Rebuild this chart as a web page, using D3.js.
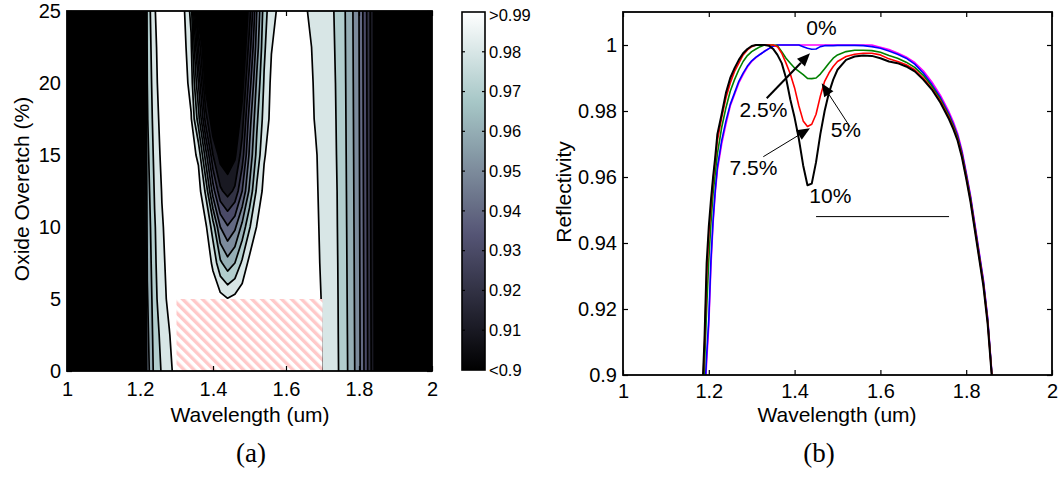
<!DOCTYPE html>
<html>
<head>
<meta charset="utf-8">
<script src="https://cdn.jsdelivr.net/npm/d3@7"></script>
<style>
  body { margin: 0; background: #fff; }
  text { font-family: "Liberation Sans", Arial, sans-serif; fill: #000; }
</style>
</head>
<body>
<svg id="chart" width="1063" height="477"></svg>
<script>
// ---------------- DATA ----------------
// (a) contour map: reflectivity vs wavelength (columns) and oxide overetch (rows)
const gridWavelengths = [1.00,1.02,1.04,1.06,1.08,1.10,1.12,1.14,1.16,1.18,1.20,1.22,1.24,1.26,1.28,1.30,1.32,1.34,1.36,1.38,
  1.40,1.42,1.44,1.46,1.48,1.50,1.52,1.54,1.56,1.58,1.60,1.62,1.64,1.66,1.68,1.70,1.72,1.74,1.76,1.78,
  1.80,1.82,1.84,1.86,1.88,1.90,1.92,1.94,1.96,1.98,2.00];
const gridOveretch = [0, 2.5, 5, 7.5, 10, 12.5, 15, 17.5, 20, 22.5, 25];

const reflOe0 = [0.60,0.55,0.62,0.58,0.66,0.63,0.70,0.72,0.78,
  0.84,0.885,0.955,0.9735,0.981,0.9875,0.9935,0.998,0.999,1.0,
  1.0,1.0,1.0,1.0,1.0,1.0,1.0,1.0,1.0,1.0,
  1.0,1.0,0.9995,0.998,0.996,0.993,0.9898,0.986,0.9815,0.974,
  0.965,0.953,0.934,0.913,0.88,0.84,
  0.80,0.76,0.70,0.66,0.62,0.60];
const reflOe2_5 = [0.60,0.55,0.62,0.58,0.66,0.63,0.70,0.72,0.78,
  0.84,0.886,0.957,0.975,0.983,0.9895,0.995,0.998,0.999,1.0,
  1.0,1.0,0.999,0.998,0.999,1.0,1.0,1.0,1.0,1.0,
  1.0,0.9995,0.999,0.9975,0.996,0.993,0.9895,0.9858,0.9812,0.9737,
  0.9647,0.9527,0.9337,0.9127,0.8795,0.84,
  0.80,0.76,0.70,0.66,0.62,0.60];
const reflOe5 = [0.60,0.55,0.62,0.58,0.66,0.63,0.70,0.72,0.78,
  0.845,0.887,0.959,0.9765,0.987,0.992,0.996,0.999,1.0,1.0,
  0.999,0.997,0.994,0.9905,0.993,0.996,0.998,0.999,1.0,1.0,
  1.0,0.9995,0.9985,0.997,0.9955,0.993,0.9893,0.9855,0.981,0.9734,
  0.9644,0.9524,0.9334,0.9124,0.879,0.84,
  0.80,0.76,0.70,0.66,0.62,0.60];
const reflOe7_5 = [0.60,0.55,0.62,0.58,0.66,0.63,0.70,0.72,0.78,
  0.845,0.887,0.961,0.978,0.988,0.993,0.997,0.999,1.0,0.999,
  0.997,0.988,0.972,0.964,0.970,0.982,0.993,0.996,0.998,0.999,
  0.9995,0.999,0.998,0.9965,0.995,0.9925,0.9885,0.9852,0.9807,0.9731,
  0.9641,0.9521,0.9331,0.9121,0.8785,0.84,
  0.80,0.76,0.70,0.66,0.62,0.60];
const reflOe10 = [0.60,0.55,0.62,0.58,0.66,0.63,0.70,0.72,0.78,
  0.845,0.888,0.963,0.979,0.989,0.994,0.998,1.0,0.999,0.998,
  0.992,0.975,0.950,0.941,0.948,0.963,0.979,0.9905,0.995,0.997,
  0.998,0.998,0.997,0.996,0.9945,0.992,0.988,0.9849,0.9803,0.9728,
  0.9638,0.9518,0.9328,0.9118,0.878,0.84,
  0.80,0.76,0.70,0.66,0.62,0.60];
const reflOe12_5 = [0.60,0.55,0.62,0.58,0.66,0.63,0.70,0.72,0.78,
  0.85,0.888,0.965,0.981,0.9905,0.995,0.998,0.999,0.997,0.995,
  0.978,0.945,0.922,0.916,0.922,0.94,0.962,0.982,0.993,0.996,
  0.997,0.9975,0.9965,0.9955,0.994,0.9915,0.9875,0.9846,0.98,0.9725,
  0.9635,0.9515,0.9325,0.9115,0.8775,0.84,
  0.80,0.76,0.70,0.66,0.62,0.60];
const reflOe15 = [0.60,0.55,0.62,0.58,0.66,0.63,0.70,0.72,0.78,
  0.85,0.889,0.967,0.983,0.9925,0.996,0.999,0.998,0.994,0.988,
  0.955,0.92,0.906,0.903,0.908,0.925,0.952,0.973,0.989,0.995,
  0.997,0.9975,0.997,0.9965,0.9935,0.991,0.987,0.9842,0.9796,0.9722,
  0.9632,0.9512,0.9322,0.9112,0.877,0.84,
  0.80,0.76,0.70,0.66,0.62,0.60];
const reflOe17_5 = [0.60,0.55,0.62,0.58,0.66,0.63,0.70,0.72,0.78,
  0.85,0.889,0.969,0.985,0.994,0.997,0.999,0.997,0.991,0.965,
  0.925,0.90,0.893,0.893,0.898,0.915,0.945,0.968,0.984,0.993,
  0.996,0.997,0.9965,0.996,0.993,0.9895,0.986,0.9839,0.9793,0.9719,
  0.9629,0.9509,0.9319,0.9109,0.8765,0.84,
  0.80,0.76,0.70,0.66,0.62,0.60];
const reflOe20 = [0.60,0.55,0.62,0.58,0.66,0.63,0.70,0.72,0.78,
  0.85,0.89,0.970,0.987,0.995,0.998,0.999,0.995,0.986,0.95,
  0.905,0.89,0.885,0.885,0.89,0.905,0.935,0.962,0.981,0.992,
  0.995,0.996,0.996,0.996,0.9925,0.989,0.986,0.9835,0.979,0.9716,
  0.9626,0.9506,0.9316,0.9106,0.876,0.84,
  0.80,0.76,0.70,0.66,0.62,0.60];
const reflOe22_5 = [0.60,0.55,0.62,0.58,0.66,0.63,0.70,0.72,0.78,
  0.85,0.89,0.972,0.988,0.9955,0.998,0.999,0.9935,0.982,0.93,
  0.89,0.88,0.875,0.875,0.88,0.895,0.925,0.955,0.978,0.9895,
  0.994,0.996,0.9955,0.995,0.9915,0.9885,0.9855,0.983,0.9785,0.9713,
  0.9623,0.9503,0.9313,0.9103,0.8755,0.84,
  0.80,0.76,0.70,0.66,0.62,0.60];
const reflOe25 = [0.60,0.55,0.62,0.58,0.66,0.63,0.70,0.72,0.78,
  0.85,0.89,0.9735,0.9893,0.996,0.999,0.999,0.9915,0.977,0.90,
  0.88,0.87,0.865,0.865,0.87,0.89,0.915,0.95,0.975,0.987,
  0.9915,0.995,0.997,0.993,0.9898,0.987,0.985,0.9825,0.978,0.971,
  0.962,0.950,0.931,0.910,0.875,0.84,
  0.80,0.76,0.70,0.66,0.62,0.60];

const contourLevels = [0.90,0.91,0.92,0.93,0.94,0.95,0.96,0.97,0.98,0.99];
const colorbarLabels = [">0.99","0.98","0.97","0.96","0.95","0.94","0.93","0.92","0.91","<0.9"];
const hatchWavelengths = [1.3, 1.7];
const hatchOveretch = [0, 5];

const xTicks = [1, 1.2, 1.4, 1.6, 1.8, 2];
const leftYTicks = [0, 5, 10, 15, 20, 25];
const rightYTicks = [0.9, 0.92, 0.94, 0.96, 0.98, 1];

// (b) reflectivity spectra for several oxide overetch values
const specWavelengths = [1.18,1.185,1.19,1.195,1.20,1.205,1.21,1.215,1.22,1.23,1.24,1.25,1.26,1.27,1.28,1.29,1.30,
  1.31,1.32,1.33,1.34,1.35,1.36,1.37,1.38,1.39,1.40,1.41,1.42,1.43,1.44,1.45,1.46,1.47,1.48,1.49,1.50,
  1.52,1.54,1.56,1.58,1.60,1.62,1.64,1.66,1.68,1.70,1.72,1.74,1.76,1.77,1.78,1.79,1.80,1.81,1.82,1.83,
  1.84,1.85,1.86,1.87];
const spec0 = [0.853,0.876,0.891,0.904,0.915,0.933,0.946,0.955,0.962,0.970,0.976,0.9815,0.985,0.9885,0.991,0.9933,0.995,
  0.9962,0.9972,0.9981,0.9989,0.9996,1.0,1.0,1.0,1.0,1.0,1.0,1.0,1.0,1.0,1.0,1.0,1.0,1.0,1.0,1.0,
  1.0,1.0,1.0,1.0,0.9993,0.9986,0.9976,0.9964,0.9947,0.9922,0.9888,0.9847,0.9797,0.9767,0.9732,0.9682,0.9615,0.9545,0.946,0.9375,
  0.929,0.9175,0.9005,0.881];
const spec2_5 = [0.855,0.878,0.893,0.906,0.917,0.935,0.947,0.956,0.963,0.971,0.977,0.982,0.9855,0.989,0.9915,0.9936,0.9952,
  0.9963,0.9972,0.9981,0.9989,0.9996,1.0,1.0,1.0,1.0,1.0,1.0,0.9995,0.999,0.9987,0.9988,0.9995,0.9998,0.9998,0.9998,0.9999,
  0.9999,0.9999,0.9998,0.9995,0.999,0.9982,0.9972,0.996,0.9942,0.9915,0.988,0.984,0.979,0.976,0.9725,0.9675,0.961,0.954,0.9455,0.937,
  0.9285,0.917,0.900,0.880];
const spec5 = [0.862,0.887,0.903,0.920,0.935,0.946,0.955,0.961,0.967,0.975,0.981,0.986,0.9895,0.9925,0.995,0.9968,0.998,
  0.9988,0.9995,1.0,1.0,1.0,0.9998,0.998,0.996,0.9945,0.993,0.992,0.991,0.9899,0.9898,0.990,0.9912,0.9928,0.9945,0.996,0.997,
  0.998,0.9984,0.9984,0.9983,0.9978,0.9968,0.996,0.9948,0.9932,0.9908,0.9875,0.9835,0.9785,0.9755,0.972,0.967,0.9605,0.9535,0.945,0.9365,
  0.928,0.9165,0.900,0.881];
const spec7_5 = [0.868,0.893,0.909,0.930,0.943,0.951,0.959,0.965,0.971,0.978,0.984,0.9885,0.992,0.9945,0.997,0.9985,0.9995,
  1.0,1.0,1.0,1.0,1.0,0.9995,0.9975,0.9945,0.9912,0.987,0.9815,0.977,0.9753,0.976,0.979,0.9845,0.989,0.9915,0.9935,0.995,
  0.9965,0.9972,0.9975,0.9975,0.997,0.9958,0.995,0.994,0.9925,0.990,0.9868,0.983,0.978,0.975,0.9715,0.9665,0.960,0.953,0.9445,0.936,
  0.9275,0.916,0.8995,0.880];
const spec10 = [0.870,0.895,0.911,0.934,0.945,0.953,0.960,0.966,0.973,0.979,0.9855,0.990,0.993,0.9955,0.9975,0.9988,0.9997,
  1.0,1.0,1.0,0.9998,0.9988,0.997,0.9945,0.990,0.9835,0.978,0.9715,0.9635,0.9575,0.958,0.9645,0.973,0.980,0.9855,0.9895,0.9925,
  0.9955,0.9965,0.9968,0.9967,0.996,0.995,0.9945,0.9935,0.992,0.9895,0.9865,0.9825,0.9775,0.9745,0.971,0.966,0.9595,0.9525,0.944,0.9355,
  0.927,0.9155,0.899,0.880];
const seriesNames = ["0%", "2.5%", "5%", "7.5%", "10%"];
const seriesColors = ["#ff00ff", "#0000ff", "#008000", "#ff0000", "#000000"];

// annotation labels: [text, wavelength, reflectivity]
const annLabels = [["0%", 1.4627, 1.0030], ["2.5%", 1.3275, 0.97818], ["5%", 1.5195, 0.97212],
                   ["7.5%", 1.3042, 0.96061], ["10%", 1.4833, 0.95212]];
// arrows: [tail wavelength, tail refl, tip wavelength, tip refl]
const annArrows = [[1.335, 0.98385, 1.4359, 0.99748], [1.529, 0.97524, 1.4632, 0.98839], [1.327, 0.96615, 1.4359, 0.97476]];
const annArrowWidths = [2, 1, 1];
const markerLineWl = [1.45, 1.76];
const markerLineR = [0.948, 0.948];

// ---------------- DRAW ----------------
const svg = d3.select("#chart");
const defs = svg.append("defs");

function bone(t) {
  t = Math.max(0, Math.min(1, t));
  const hr = Math.min(1, t / 0.375);
  const hg = Math.max(0, Math.min(1, (t - 0.375) / 0.375));
  const hb = Math.max(0, (t - 0.75) / 0.25);
  const r = (7 * t + hb) / 8, g = (7 * t + hg) / 8, b = (7 * t + hr) / 8;
  return d3.rgb(r * 255, g * 255, b * 255).formatHex();
}
const cmin = contourLevels[0], cmax = contourLevels[contourLevels.length - 1];
const levelColor = v => bone((v - cmin) / (cmax - cmin));

// ----- Panel (a)
const xL = d3.scaleLinear().domain([1, 2]).range([67, 432]);
const yL = d3.scaleLinear().domain([0, 25]).range([371, 11]);

defs.append("clipPath").attr("id", "clipL").append("rect")
  .attr("x", 67).attr("y", 11).attr("width", 365).attr("height", 360);

const grid = [reflOe0, reflOe2_5, reflOe5, reflOe7_5, reflOe10, reflOe12_5, reflOe15, reflOe17_5, reflOe20, reflOe22_5, reflOe25];
const nx = gridWavelengths.length, ny = gridOveretch.length;
const flat = [].concat(...grid);

// calibrate d3.contours grid coordinate convention
let off = 0.5;
{
  const t = d3.contours().size([2, 1]).thresholds([0.5])([0, 1]);
  let cx = Infinity;
  t[0].coordinates.forEach(poly => poly.forEach(ring => ring.forEach(p => {
    if (p[0] > 0.01 && p[0] < 1.99) cx = Math.min(cx, p[0]);
  })));
  if (isFinite(cx)) off = cx - 0.5;
}
const wStep = gridWavelengths[1] - gridWavelengths[0];
const oStep = gridOveretch[1] - gridOveretch[0];
const proj = d3.geoTransform({
  point: function (x, y) {
    this.stream.point(xL(gridWavelengths[0] + (x - off) * wStep), yL(gridOveretch[0] + (y - off) * oStep));
  }
});
const gpath = d3.geoPath(proj);
const contours = d3.contours().size([nx, ny]).thresholds(contourLevels)(flat);

const gL = svg.append("g").attr("clip-path", "url(#clipL)");
gL.append("rect").attr("x", 67).attr("y", 11).attr("width", 365).attr("height", 360).attr("fill", "#000");
gL.selectAll("path.band").data(contours).join("path")
  .attr("class", "band")
  .attr("d", gpath)
  .attr("fill", d => levelColor(d.value))
  .attr("fill-rule", "evenodd")
  .attr("stroke", "#000")
  .attr("stroke-width", 1.7)
  .attr("stroke-linejoin", "round");

// hatched region
const pat = defs.append("pattern").attr("id", "hatch").attr("patternUnits", "userSpaceOnUse")
  .attr("width", 7).attr("height", 7).attr("patternTransform", "rotate(-45)");
pat.append("rect").attr("width", 7).attr("height", 7).attr("fill", "#ffffff");
pat.append("rect").attr("width", 3.4).attr("height", 7).attr("fill", "#ffc9c9");
gL.append("rect")
  .attr("x", xL(hatchWavelengths[0])).attr("y", yL(hatchOveretch[1]))
  .attr("width", xL(hatchWavelengths[1]) - xL(hatchWavelengths[0]))
  .attr("height", yL(hatchOveretch[0]) - yL(hatchOveretch[1]))
  .attr("fill", "url(#hatch)");

function styleAxis(g) {
  g.select(".domain").remove();
  g.selectAll(".tick line").attr("stroke", "#000").attr("stroke-width", 1.2);
  g.selectAll(".tick text").style("font-size", "20px").attr("fill", "#000");
}
svg.append("g").attr("transform", "translate(0,371)")
  .call(d3.axisBottom(xL).tickValues(xTicks).tickSize(-5).tickPadding(11).tickFormat(d => String(d))).call(styleAxis);
svg.append("g").attr("transform", "translate(0,11)")
  .call(d3.axisTop(xL).tickValues(xTicks).tickSize(-5).tickFormat("")).call(styleAxis);
svg.append("g").attr("transform", "translate(67,0)")
  .call(d3.axisLeft(yL).tickValues(leftYTicks).tickSize(-5).tickPadding(6).tickFormat(d => String(d))).call(styleAxis);
svg.append("g").attr("transform", "translate(432,0)")
  .call(d3.axisRight(yL).tickValues(leftYTicks).tickSize(-5).tickFormat("")).call(styleAxis);
svg.append("rect").attr("x", 67).attr("y", 11).attr("width", 365).attr("height", 360)
  .attr("fill", "none").attr("stroke", "#000").attr("stroke-width", 1.8);

svg.append("text").attr("x", 250).attr("y", 422).attr("text-anchor", "middle")
  .style("font-size", "21px").text("Wavelength (um)");
svg.append("text").attr("transform", "translate(29,189) rotate(-90)").attr("text-anchor", "middle")
  .style("font-size", "21px").text("Oxide Overetch (%)");

// colorbar
const cbX = 462, cbW = 23, cbTop = 12, cbBot = 370;
const grad = defs.append("linearGradient").attr("id", "cbgrad")
  .attr("x1", 0).attr("y1", 1).attr("x2", 0).attr("y2", 0);
d3.range(0, 33).forEach(i => {
  grad.append("stop").attr("offset", i / 32).attr("stop-color", bone(i / 32));
});
svg.append("rect").attr("x", cbX).attr("y", cbTop).attr("width", cbW).attr("height", cbBot - cbTop)
  .attr("fill", "url(#cbgrad)").attr("stroke", "#000").attr("stroke-width", 1.6);
const yCb = d3.scalePoint().domain(colorbarLabels).range([cbTop, cbBot]);
colorbarLabels.forEach((lab, i) => {
  const y = yCb(lab);
  if (i > 0 && i < colorbarLabels.length - 1) {
    svg.append("line").attr("x1", cbX).attr("x2", cbX + 3).attr("y1", y).attr("y2", y).attr("stroke", "#000").attr("stroke-width", 1.2);
    svg.append("line").attr("x1", cbX + cbW - 3).attr("x2", cbX + cbW).attr("y1", y).attr("y2", y).attr("stroke", "#000").attr("stroke-width", 1.2);
  }
  svg.append("text").attr("x", cbX + cbW + 4).attr("y", y + (i === 0 ? 3 : 0)).attr("dy", "0.35em")
    .style("font-size", "16.5px").text(lab);
});

// ----- Panel (b)
const xR = d3.scaleLinear().domain([1, 2]).range([623, 1052]);
const yR = d3.scaleLinear().domain([0.9, 1.01]).range([375, 12]);
defs.append("clipPath").attr("id", "clipR").append("rect")
  .attr("x", 623).attr("y", 12).attr("width", 429).attr("height", 363);

svg.append("g").attr("transform", "translate(0,375)")
  .call(d3.axisBottom(xR).tickValues(xTicks).tickSize(-5).tickPadding(9).tickFormat(d => String(d))).call(styleAxis);
svg.append("g").attr("transform", "translate(0,12)")
  .call(d3.axisTop(xR).tickValues(xTicks).tickSize(-5).tickFormat("")).call(styleAxis);
svg.append("g").attr("transform", "translate(623,0)")
  .call(d3.axisLeft(yR).tickValues(rightYTicks).tickSize(-5).tickPadding(6).tickFormat(d => String(d))).call(styleAxis);
svg.append("g").attr("transform", "translate(1052,0)")
  .call(d3.axisRight(yR).tickValues(rightYTicks).tickSize(-5).tickFormat("")).call(styleAxis);

const gR = svg.append("g").attr("clip-path", "url(#clipR)");
const allSpecs = [spec0, spec2_5, spec5, spec7_5, spec10];
const line = d3.line().x(d => xR(d[0])).y(d => yR(d[1]));
allSpecs.forEach((s, i) => {
  gR.append("path")
    .datum(specWavelengths.map((w, j) => [w, s[j]]))
    .attr("d", line)
    .attr("fill", "none")
    .attr("stroke", seriesColors[i])
    .attr("stroke-width", i === 4 ? 2 : 1.6)
    .attr("stroke-linejoin", "round")
    .attr("data-name", seriesNames[i]);
});

// marker line
gR.append("line").attr("x1", xR(markerLineWl[0])).attr("x2", xR(markerLineWl[1]))
  .attr("y1", yR(markerLineR[0])).attr("y2", yR(markerLineR[1])).attr("stroke", "#000").attr("stroke-width", 1);

// arrows
annArrows.forEach((a, i) => {
  const x0 = xR(a[0]), y0 = yR(a[1]), x1 = xR(a[2]), y1 = yR(a[3]);
  const dx = x1 - x0, dy = y1 - y0, L = Math.hypot(dx, dy);
  const ux = dx / L, uy = dy / L;
  const hl = 13, hw = 5.5;
  const bx = x1 - ux * hl, by = y1 - uy * hl;
  svg.append("line").attr("x1", x0).attr("y1", y0).attr("x2", bx).attr("y2", by)
    .attr("stroke", "#000").attr("stroke-width", annArrowWidths[i]);
  svg.append("path")
    .attr("d", `M${x1},${y1}L${bx - uy * hw},${by + ux * hw}L${bx + uy * hw},${by - ux * hw}Z`)
    .attr("fill", "#000");
});
annLabels.forEach(a => {
  svg.append("text").attr("x", xR(a[1])).attr("y", yR(a[2])).attr("text-anchor", "middle")
    .style("font-size", "21px").text(a[0]);
});

svg.append("rect").attr("x", 623).attr("y", 12).attr("width", 429).attr("height", 363)
  .attr("fill", "none").attr("stroke", "#000").attr("stroke-width", 1.8);

svg.append("text").attr("x", 837).attr("y", 422).attr("text-anchor", "middle")
  .style("font-size", "21px").text("Wavelength (um)");
svg.append("text").attr("transform", "translate(571,192) rotate(-90)").attr("text-anchor", "middle")
  .style("font-size", "21px").text("Reflectivity");

// panel captions
svg.append("text").attr("x", 251).attr("y", 462).attr("text-anchor", "middle")
  .style("font-family", "'Liberation Serif', 'Times New Roman', serif").style("font-size", "27px").text("(a)");
svg.append("text").attr("x", 819).attr("y", 462).attr("text-anchor", "middle")
  .style("font-family", "'Liberation Serif', 'Times New Roman', serif").style("font-size", "27px").text("(b)");
</script>
</body>
</html>
